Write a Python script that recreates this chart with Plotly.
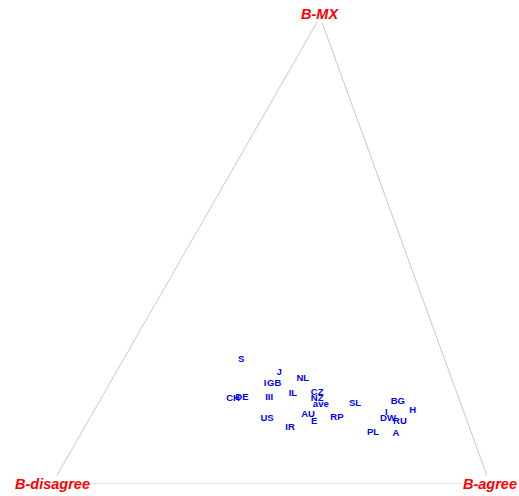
import plotly.graph_objects as go

# Ternary data: proportions (agree, disagree, MX) per country label
labels = ["S", "J", "I", "GB", "NL", "CH", "DE", "III", "IL", "CZ", "NZ", "ave",
          "SL", "AU", "E", "RP", "US", "IR", "BG", "H", "I", "DW", "RU", "PL", "A"]
agree = [0.269, 0.373, 0.354, 0.375, 0.435, 0.302, 0.321, 0.382, 0.432, 0.486, 0.494, 0.509,
         0.586, 0.494, 0.517, 0.563, 0.406, 0.470, 0.682, 0.727, 0.670, 0.682, 0.713, 0.665, 0.720]
mx = [0.266, 0.238, 0.216, 0.216, 0.225, 0.182, 0.184, 0.186, 0.193, 0.195, 0.182, 0.171,
      0.173, 0.148, 0.133, 0.143, 0.139, 0.120, 0.176, 0.158, 0.152, 0.139, 0.133, 0.111, 0.107]
disagree = [1 - a - m for a, m in zip(agree, mx)]

corner_names = ["B-disagree", "B-agree", "B-MX"]

# Vertex positions of the (skewed) triangle in plot coordinates
V_dis = (0.0, 0.0)
V_agr = (1.0, 0.0)
V_mx = (0.612, 1.0)

def to_xy(a, d, m):
    x = a * V_agr[0] + d * V_dis[0] + m * V_mx[0]
    y = a * V_agr[1] + d * V_dis[1] + m * V_mx[1]
    return x, y

pts = [to_xy(a, d, m) for a, d, m in zip(agree, disagree, mx)]
xs = [p[0] for p in pts]
ys = [p[1] for p in pts]

fig = go.Figure()
fig.add_trace(go.Scatter(
    x=[V_dis[0], V_agr[0], V_mx[0], V_dis[0]],
    y=[V_dis[1], V_agr[1], V_mx[1], V_dis[1]],
    mode="lines", line=dict(color="#c8c8c8", width=1),
    hoverinfo="skip", showlegend=False, cliponaxis=False))
fig.add_trace(go.Scatter(
    x=xs, y=ys, mode="text", text=[f"<b>{t}</b>" for t in labels],
    textposition="middle center",
    textfont=dict(family="Liberation Sans, Arial", size=9.5, color="#0000ff"),
    showlegend=False, cliponaxis=False))

for name, v, ys_ in zip(corner_names, [V_dis, V_agr, V_mx], [0, 0, 3]):
    fig.add_annotation(x=v[0], y=v[1], xref="x", yref="y", text=f"<b><i>{name}</i></b>",
                       showarrow=False, xanchor="center", yanchor="middle", yshift=ys_,
                       bgcolor="white", borderpad=0,
                       font=dict(family="Liberation Sans, Arial", size=14.5, color="#ff0000"))

fig.update_layout(
    width=519, height=496,
    margin=dict(l=52, r=29, t=17, b=12, autoexpand=False),
    plot_bgcolor="white", paper_bgcolor="white",
    xaxis=dict(range=[0, 1], visible=False, fixedrange=True),
    yaxis=dict(range=[0, 1], visible=False, fixedrange=True),
)
fig.write_html("out.html", config={"displayModeBar": False},
               post_script="document.body.style.margin='0';document.body.style.overflow='hidden';")
